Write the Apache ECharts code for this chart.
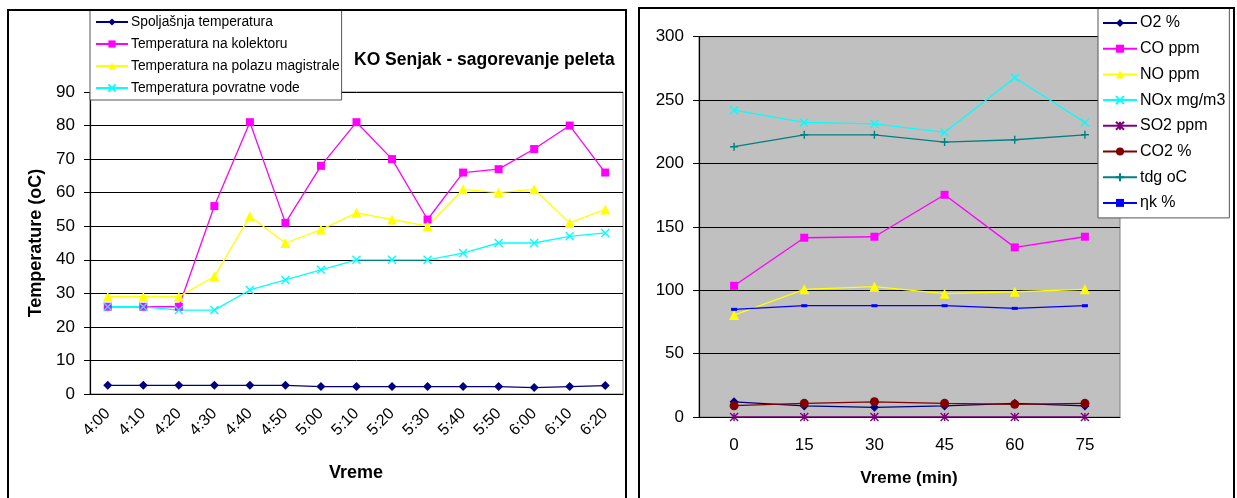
<!DOCTYPE html>
<html>
<head>
<meta charset="utf-8">
<script src="https://cdn.jsdelivr.net/npm/echarts@6/dist/echarts.min.js"></script>
<style>
  html, body { margin: 0; padding: 0; background: #fff; }
  #main { width: 1237px; height: 498px; }
</style>
</head>
<body>
<div id="main"></div>
<script>
// levi grafikon - temperature
var vremeLabels = ['4:00', '4:10', '4:20', '4:30', '4:40', '4:50', '5:00', '5:10', '5:20', '5:30', '5:40', '5:50', '6:00', '6:10', '6:20'];
var spoljasnja = [2.6, 2.6, 2.6, 2.6, 2.6, 2.6, 2.2, 2.2, 2.2, 2.2, 2.2, 2.2, 1.9, 2.2, 2.5];
var kolektor = [26, 26, 26, 56, 81, 51, 68, 81, 70, 52, 66, 67, 73, 80, 66];
var polaz = [29, 29, 29, 35, 53, 45, 49, 54, 52, 50, 61, 60, 61, 51, 55];
var povratna = [26, 26, 25, 25, 31, 34, 37, 40, 40, 40, 42, 45, 45, 47, 48];
var tempTicks = [0, 10, 20, 30, 40, 50, 60, 70, 80, 90];

// desni grafikon - sagorevanje
var minuti = ['0', '15', '30', '45', '60', '75'];
var o2 = [12, 8.7, 7.6, 8.7, 10.8, 8.7];
var co = [103.5, 141.4, 142.2, 175.3, 133.8, 142.2];
var no = [80.4, 100.7, 102.8, 97.3, 98.8, 100.7];
var nox = [242, 232.4, 231.3, 224.5, 267.6, 232.4];
var so2 = [0, 0, 0, 0, 0, 0];
var co2 = [8.9, 10.8, 12, 10.8, 10, 10.8];
var tdg = [213.2, 222.6, 222.6, 216.9, 218.7, 222.6];
var etaK = [84.9, 87.8, 87.8, 87.8, 85.7, 87.8];
var gasTicks = [0, 50, 100, 150, 200, 250, 300];

var FONT = 'Liberation Sans, Arial, sans-serif';
var X_PATH = 'path://M0,0L10,10M10,0L0,10';
var STAR_PATH = 'path://M0,0L10,10M10,0L0,10M5,0L5,10';
var PLUS_PATH = 'path://M5,0L5,10M0,5L10,5';

function serija(name, data, color, symbol, size, xi, strokeOnly) {
    var s = {
        name: name,
        type: 'line',
        data: data,
        xAxisIndex: xi,
        yAxisIndex: xi,
        symbol: symbol,
        symbolSize: size,
        showAllSymbol: true,
        animation: false,
        lineStyle: { color: color, width: 1.3 },
        itemStyle: { color: color }
    };
    if (strokeOnly) {
        s.itemStyle = { color: 'rgba(0,0,0,0)', borderColor: color, borderWidth: 1.4 };
    }
    return s;
}

var chart = echarts.init(document.getElementById('main'));

var option = {
    animation: false,
    textStyle: { fontFamily: FONT },
    title: {
        text: 'KO Senjak - sagorevanje peleta',
        left: 349,
        top: 46,
        textStyle: { fontFamily: FONT, fontSize: 17.5, fontWeight: 'bold', color: '#000' }
    },
    legend: [
        {
            data: ['Spoljašnja temperatura', 'Temperatura na kolektoru', 'Temperatura na polazu magistrale', 'Temperatura povratne vode'],
            orient: 'vertical',
            left: 90,
            top: 10,
            itemWidth: 32,
            itemHeight: 9,
            itemGap: 8,
            padding: [5, 2, 5, 5],
            backgroundColor: '#fff',
            borderColor: '#555',
            borderWidth: 1,
            textStyle: { fontFamily: FONT, fontSize: 13.8, lineHeight: 14, color: '#000', padding: [0, 0, 0, -2] }
        },
        {
            data: ['O2 %', 'CO ppm', 'NO ppm', 'NOx mg/m3', 'SO2 ppm', 'CO2 %', 'tdg oC', 'ηk %'],
            orient: 'vertical',
            left: 1098,
            top: 8,
            itemWidth: 34,
            itemHeight: 10,
            itemGap: 9.7,
            padding: [7, 4, 7, 4],
            backgroundColor: '#fff',
            borderColor: '#555',
            borderWidth: 1,
            textStyle: { fontFamily: FONT, fontSize: 16, lineHeight: 16, color: '#000', padding: [0, 0, 0, -2] }
        }
    ],
    grid: [
        { left: 90, top: 92, width: 533, height: 302, show: true, backgroundColor: '#fff', borderColor: '#808080', borderWidth: 1 },
        { left: 699, top: 36.7, width: 421, height: 380.3, show: true, backgroundColor: '#c0c0c0', borderColor: '#808080', borderWidth: 1 }
    ],
    xAxis: [
        {
            gridIndex: 0,
            type: 'category',
            data: vremeLabels,
            boundaryGap: true,
            axisLine: { lineStyle: { color: '#000', width: 1.2 } },
            axisTick: { length: 6, lineStyle: { color: '#000' } },
            axisLabel: { rotate: 45, margin: 17, interval: 0, fontSize: 16, color: '#000', fontFamily: FONT }
        },
        {
            gridIndex: 1,
            type: 'category',
            data: minuti,
            boundaryGap: true,
            axisLine: { lineStyle: { color: '#000', width: 1.2 } },
            axisTick: { length: 6, lineStyle: { color: '#000' } },
            axisLabel: { margin: 20, interval: 0, fontSize: 17, color: '#000', fontFamily: FONT }
        }
    ],
    yAxis: [
        {
            gridIndex: 0,
            type: 'value',
            min: tempTicks[0],
            max: tempTicks[tempTicks.length - 1],
            interval: 10,
            axisLine: { show: true, lineStyle: { color: '#000', width: 1.2 } },
            axisTick: { show: true, length: 6, lineStyle: { color: '#000' } },
            axisLabel: { margin: 15, fontSize: 17, color: '#000', fontFamily: FONT },
            splitLine: { lineStyle: { color: '#000', width: 1 } }
        },
        {
            gridIndex: 1,
            type: 'value',
            min: gasTicks[0],
            max: gasTicks[gasTicks.length - 1],
            interval: 50,
            axisLine: { show: true, lineStyle: { color: '#000', width: 1.2 } },
            axisTick: { show: true, length: 6, lineStyle: { color: '#000' } },
            axisLabel: { margin: 15, fontSize: 17, color: '#000', fontFamily: FONT },
            splitLine: { lineStyle: { color: '#000', width: 1 } }
        }
    ],
    series: [
        serija('Spoljašnja temperatura', spoljasnja, '#000080', 'diamond', 9, 0),
        serija('Temperatura na kolektoru', kolektor, '#ff00ff', 'rect', 8, 0),
        serija('Temperatura na polazu magistrale', polaz, '#ffff00', 'triangle', 10, 0),
        serija('Temperatura povratne vode', povratna, '#00ffff', X_PATH, 8, 0, true),

        serija('O2 %', o2, '#000080', 'diamond', 9, 1),
        serija('CO ppm', co, '#ff00ff', 'rect', 8, 1),
        serija('NO ppm', no, '#ffff00', 'triangle', 10, 1),
        serija('NOx mg/m3', nox, '#00ffff', X_PATH, 8, 1, true),
        serija('SO2 ppm', so2, '#800080', STAR_PATH, 8, 1, true),
        serija('CO2 %', co2, '#800000', 'circle', 9, 1),
        serija('tdg oC', tdg, '#008080', PLUS_PATH, 8, 1, true),
        serija('ηk %', etaK, '#0000ff', 'rect', [6, 3], 1)
    ],
    graphic: [
        { type: 'rect', shape: { x: 8, y: 10, width: 618, height: 500 }, style: { fill: 'none', stroke: '#000', lineWidth: 2 }, z: 100 },
        { type: 'rect', shape: { x: 639, y: 8, width: 595, height: 500 }, style: { fill: 'none', stroke: '#000', lineWidth: 2 }, z: 100 },
        {
            type: 'text', x: 36, y: 243, rotation: Math.PI / 2,
            style: { text: 'Temperature (oC)', font: 'bold 18px ' + FONT, fill: '#000', align: 'center', verticalAlign: 'middle' }
        },
        {
            type: 'text', x: 356, y: 473,
            style: { text: 'Vreme', font: 'bold 18px ' + FONT, fill: '#000', align: 'center', verticalAlign: 'middle' }
        },
        {
            type: 'text', x: 909, y: 478,
            style: { text: 'Vreme (min)', font: 'bold 17px ' + FONT, fill: '#000', align: 'center', verticalAlign: 'middle' }
        }
    ]
};

chart.setOption(option);
</script>
</body>
</html>
